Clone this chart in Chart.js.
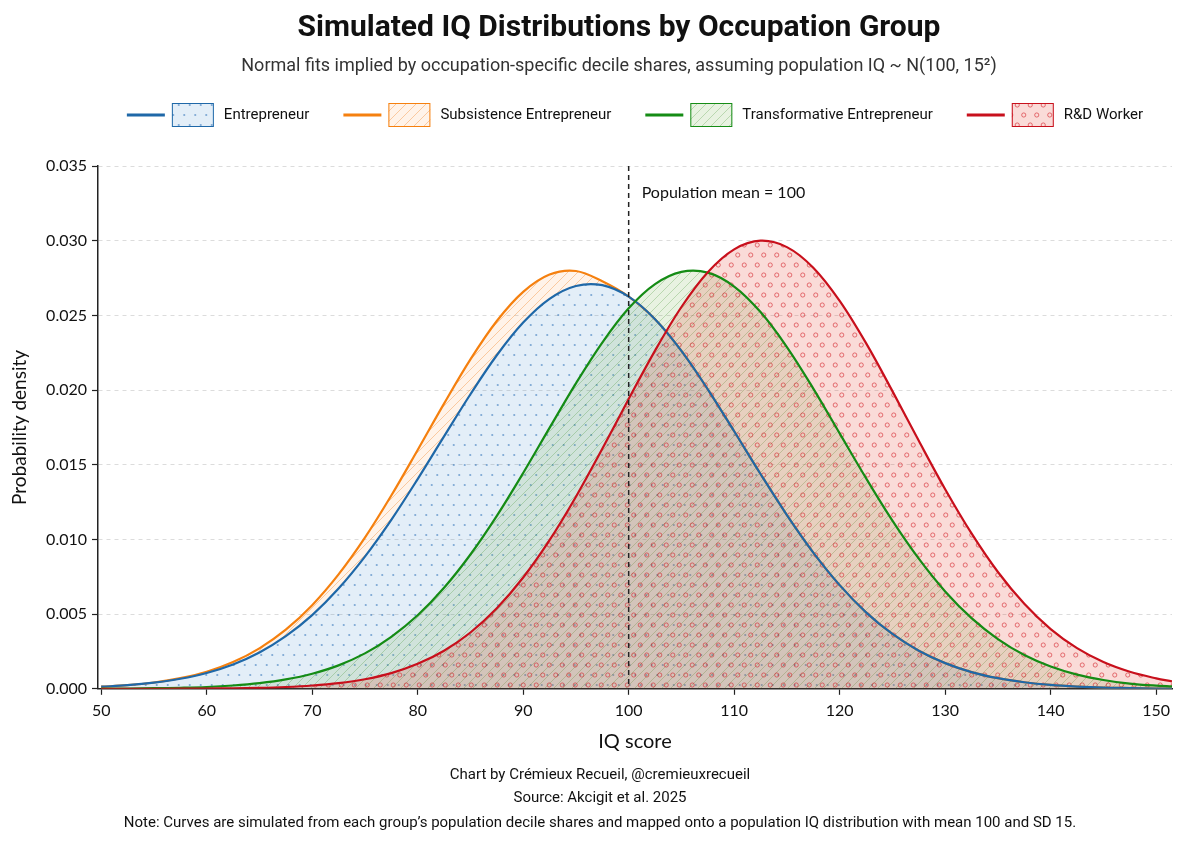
<!doctype html>
<html lang="en">
<head>
<meta charset="utf-8">
<title>Simulated IQ Distributions by Occupation Group</title>
<script src="https://cdn.jsdelivr.net/npm/chart.js"></script>
<style>
  html, body { margin: 0; padding: 0; background: #fff; }
  #wrap { width: 1200px; height: 849px; }
</style>
</head>
<body>
<div id="wrap"><canvas id="iqChart" width="1200" height="849"></canvas></div>
<script>
const iqScores = [50, 52.5, 55, 57.5, 60, 62.5, 65, 67.5, 70, 72.5, 75, 77.5, 80, 82.5, 85, 87.5,
  90, 92.5, 95, 97.5, 100, 102.5, 105, 107.5, 110, 112.5, 115, 117.5, 120, 122.5, 125, 127.5,
  130, 132.5, 135, 137.5, 140, 142.5, 145, 147.5, 150, 151.5];

const entrepreneur = [0.00014, 0.00024, 0.00041, 0.00067, 0.00106, 0.00163, 0.00243, 0.00352,
  0.00493, 0.00671, 0.00885, 0.01131, 0.01404, 0.01690, 0.01972, 0.02233, 0.02452, 0.02611,
  0.02697, 0.02702, 0.02625, 0.02474, 0.02262, 0.02005, 0.01724, 0.01438, 0.01163, 0.00912,
  0.00694, 0.00512, 0.00367, 0.00255, 0.00172, 0.00112, 0.00071, 0.00044, 0.00026, 0.00015,
  0.00008, 0.00005, 0.00002, 0.00002];

// right of ~98 this curve sits under the Entrepreneur line
const subsistence = [0.00014, 0.00024, 0.00042, 0.00071, 0.00114, 0.00179, 0.00271, 0.00396,
  0.00560, 0.00766, 0.01012, 0.01294, 0.01599, 0.01909, 0.02205, 0.02462, 0.02657, 0.02773,
  0.02797, 0.02728, 0.02625, 0.02474, 0.02262, 0.02005, 0.01724, 0.01438, 0.01163, 0.00912,
  0.00694, 0.00512, 0.00367, 0.00255, 0.00172, 0.00112, 0.00071, 0.00044, 0.00026, 0.00015,
  0.00008, 0.00005, 0.00002, 0.00002];

const transformative = [0.00001, 0.00002, 0.00004, 0.00007, 0.00012, 0.00022, 0.00038, 0.00063,
  0.00101, 0.00157, 0.00237, 0.00348, 0.00492, 0.00676, 0.00899, 0.01158, 0.01445, 0.01747,
  0.02045, 0.02318, 0.02547, 0.02709, 0.02791, 0.02786, 0.02693, 0.02522, 0.02288, 0.02010,
  0.01710, 0.01410, 0.01126, 0.00871, 0.00652, 0.00473, 0.00333, 0.00226, 0.00149, 0.00095,
  0.00059, 0.00035, 0.00021, 0.00016];

const rdWorker = [0, 0, 0, 0.00001, 0.00002, 0.00003, 0.00006, 0.00012,
  0.00022, 0.00038, 0.00064, 0.00105, 0.00167, 0.00255, 0.00377, 0.00539, 0.00745, 0.00995,
  0.01286, 0.01607, 0.01940, 0.02264, 0.02556, 0.02789, 0.02942, 0.03000, 0.02957, 0.02819,
  0.02597, 0.02314, 0.01993, 0.01660, 0.01336, 0.01040, 0.00782, 0.00569, 0.00400, 0.00272,
  0.00179, 0.00114, 0.00070, 0.00050];

const seriesNames = ['Entrepreneur', 'Subsistence Entrepreneur', 'Transformative Entrepreneur', 'R&D Worker'];
const xTicks = [50, 60, 70, 80, 90, 100, 110, 120, 130, 140, 150];
const yTicks = [0, 0.005, 0.010, 0.015, 0.020, 0.025, 0.030, 0.035];
const populationMean = 100;

const chartTitle = 'Simulated IQ Distributions by Occupation Group';
const chartSubtitle = 'Normal fits implied by occupation-specific decile shares, assuming population IQ ~ N(100, 15\u00B2)';
const footerLines = [
  'Chart by Cr\u00E9mieux Recueil, @cremieuxrecueil',
  'Source: Akcigit et al. 2025',
  'Note: Curves are simulated from each group\u2019s population decile shares and mapped onto a population IQ distribution with mean 100 and SD 15.'
];

const canvas = document.getElementById('iqChart');
const ctx = canvas.getContext('2d');

// hatch tiles, roughly like matplotlib's 'o', '//' and 'O'
function hatch(base, ink, kind) {
  const c = document.createElement('canvas');
  let w = 10, h = 10;
  if (kind === 'dots') { w = 11; h = 20; }
  if (kind === 'rings') { w = 13; h = 20; }
  if (kind === 'fine') { w = 9; h = 9; }
  c.width = w; c.height = h;
  const g = c.getContext('2d');
  g.fillStyle = base;
  g.fillRect(0, 0, w, h);
  g.fillStyle = ink;
  g.strokeStyle = ink;
  if (kind === 'dots') {
    [[2.75, 5], [8.25, 15]].forEach(([x, y]) => {
      g.beginPath(); g.arc(x, y, 1.1, 0, Math.PI * 2); g.fill();
    });
  } else if (kind === 'rings') {
    g.lineWidth = 0.9;
    [[3.25, 5], [9.75, 15]].forEach(([x, y]) => {
      g.beginPath(); g.arc(x, y, 2.1, 0, Math.PI * 2); g.stroke();
    });
  } else {
    g.lineWidth = 0.7;
    g.beginPath();
    g.moveTo(0, h); g.lineTo(w, 0);
    g.moveTo(-1, 1); g.lineTo(1, -1);
    g.moveTo(w - 1, h + 1); g.lineTo(w + 1, h - 1);
    g.stroke();
  }
  return ctx.createPattern(c, 'repeat');
}

const lineColors = ['#1f68a8', '#f5800f', '#158c15', '#c8101c'];
const fills = [
  hatch('rgba(40,125,200,0.13)', 'rgba(40,110,180,0.55)', 'dots'),
  hatch('rgba(255,140,40,0.10)', 'rgba(240,120,20,0.50)', 'diag'),
  hatch('rgba(90,165,40,0.14)', 'rgba(40,130,20,0.35)', 'fine'),
  hatch('rgba(225,55,40,0.18)', 'rgba(210,30,40,0.65)', 'rings')
];
// Subsistence is only shaded down to the Entrepreneur curve
const fillTargets = ['origin', 0, 'origin', 'origin'];
const seriesValues = [entrepreneur, subsistence, transformative, rdWorker];
const drawOrder = [2, 3, 1, 0];

const datasets = seriesValues.map((vals, i) => ({
  label: seriesNames[i],
  data: iqScores.map((x, k) => ({ x: x, y: vals[k] })),
  borderColor: lineColors[i],
  backgroundColor: fills[i],
  borderWidth: 2.2,
  pointRadius: 0,
  fill: fillTargets[i],
  tension: 0.35,
  order: drawOrder[i]
}));

const meanLine = {
  id: 'meanLine',
  afterDatasetsDraw(chart) {
    const { ctx, chartArea, scales } = chart;
    const x = scales.x.getPixelForValue(populationMean);
    ctx.save();
    ctx.strokeStyle = '#222';
    ctx.lineWidth = 1.5;
    ctx.setLineDash([5, 4]);
    ctx.beginPath();
    ctx.moveTo(x, chartArea.top);
    ctx.lineTo(x, chartArea.bottom);
    ctx.stroke();
    ctx.setLineDash([]);
    ctx.fillStyle = '#111';
    ctx.font = '16px Lato';
    ctx.textBaseline = 'middle';
    ctx.fillText('Population mean = ' + populationMean, x + 13, chartArea.top + 27);
    ctx.restore();
  }
};

const legendRow = {
  id: 'legendRow',
  afterDraw(chart) {
    const { ctx, chartArea } = chart;
    const lineLen = 38, boxW = 42, boxH = 24, gap = 34;
    ctx.save();
    ctx.font = '15px Roboto';
    const widths = seriesNames.map(t => lineLen + 7 + boxW + 10 + ctx.measureText(t).width);
    const total = widths.reduce((a, b) => a + b, 0) + gap * (widths.length - 1);
    let x = (chartArea.left + chartArea.right) / 2 - total / 2;
    const y = 115;
    seriesNames.forEach((name, i) => {
      ctx.strokeStyle = lineColors[i];
      ctx.lineWidth = 3;
      ctx.beginPath();
      ctx.moveTo(x, y);
      ctx.lineTo(x + lineLen, y);
      ctx.stroke();
      const bx = x + lineLen + 7;
      ctx.fillStyle = '#fff';
      ctx.fillRect(bx, y - boxH / 2, boxW, boxH);
      ctx.fillStyle = fills[i];
      ctx.fillRect(bx, y - boxH / 2, boxW, boxH);
      ctx.lineWidth = 1;
      ctx.strokeRect(bx + 0.5, y - boxH / 2 + 0.5, boxW - 1, boxH - 1);
      ctx.fillStyle = '#111';
      ctx.textBaseline = 'middle';
      ctx.fillText(name, bx + boxW + 10, y);
      x += widths[i] + gap;
    });
    ctx.restore();
  }
};

const headerFooter = {
  id: 'headerFooter',
  afterDraw(chart) {
    const { ctx } = chart;
    ctx.save();
    ctx.textAlign = 'center';
    ctx.textBaseline = 'middle';
    ctx.fillStyle = '#111';
    ctx.font = 'bold 30px Roboto';
    ctx.fillText(chartTitle, 619, 28);
    ctx.fillStyle = '#333';
    ctx.font = '18px Roboto';
    ctx.fillText(chartSubtitle, 619, 66);
    ctx.fillStyle = '#111';
    ctx.font = '15px Roboto';
    const ys = [775, 798, 823];
    footerLines.forEach((t, i) => ctx.fillText(t, 600, ys[i]));
    ctx.restore();
  }
};

new Chart(ctx, {
  type: 'line',
  data: { datasets: datasets },
  plugins: [meanLine, legendRow, headerFooter],
  options: {
    responsive: false,
    animation: false,
    layout: { padding: { top: 166, left: 8, right: 28, bottom: 95 } },
    plugins: {
      legend: { display: false },
      tooltip: { enabled: false },
      filler: { drawTime: 'beforeDatasetsDraw' }
    },
    scales: {
      x: {
        type: 'linear',
        min: 49.7,
        max: 151.5,
        afterBuildTicks: (axis) => { axis.ticks = xTicks.map(v => ({ value: v })); },
        grid: { drawOnChartArea: false, tickLength: 6, tickColor: '#222', tickWidth: 1.2 },
        border: { color: '#222', width: 1.5 },
        ticks: { color: '#111', font: { family: 'Lato', size: 16 }, padding: 6, maxRotation: 0 },
        title: { display: true, text: 'IQ score', color: '#111', font: { family: 'Lato', size: 20 }, padding: { top: 4, bottom: 0 } }
      },
      y: {
        min: 0,
        max: 0.035,
        afterBuildTicks: (axis) => { axis.ticks = yTicks.map(v => ({ value: v })); },
        afterFit: (axis) => { axis.width = 90; },
        grid: { color: '#dcdcdc', lineWidth: 1, tickLength: 6, tickColor: '#222', tickWidth: 1.2 },
        border: { color: '#222', width: 1.5, dash: [4, 4] },
        ticks: { color: '#111', font: { family: 'Lato', size: 16 }, padding: 5, callback: v => v.toFixed(3) },
        title: { display: true, text: 'Probability density', color: '#111', font: { family: 'Lato', size: 19 }, padding: { top: 0, bottom: 8 } }
      }
    }
  }
});
</script>
</body>
</html>
